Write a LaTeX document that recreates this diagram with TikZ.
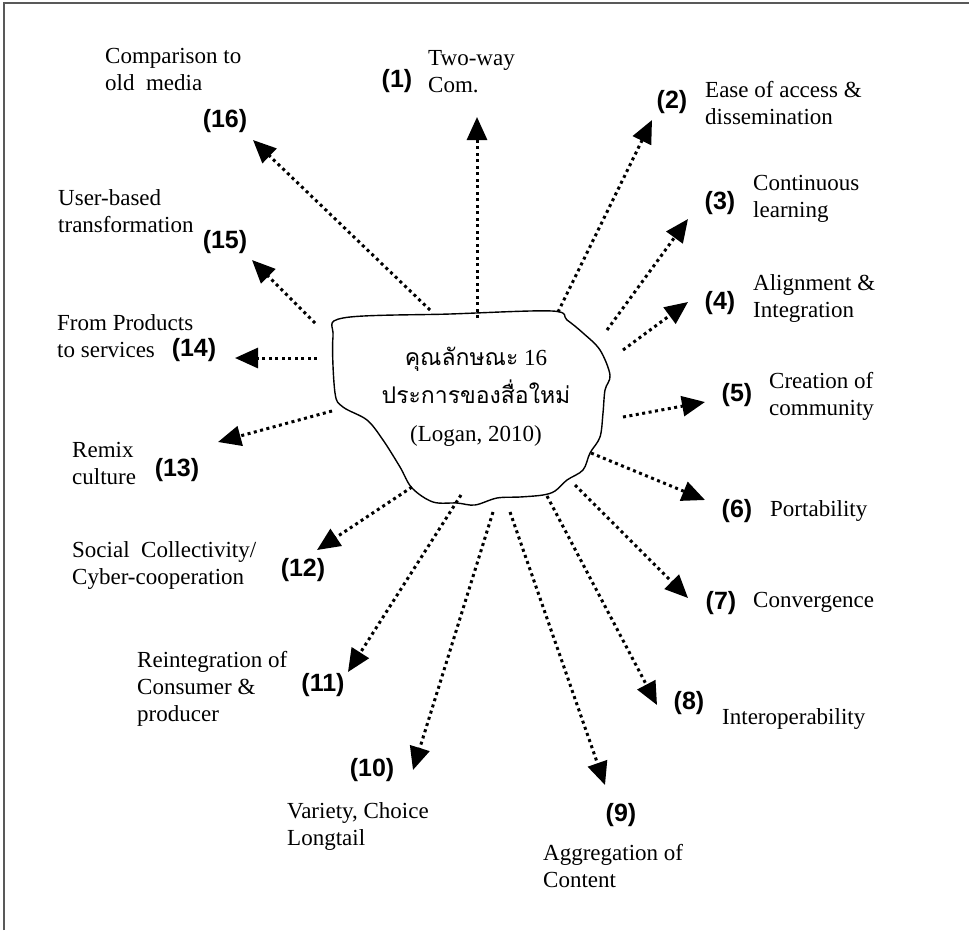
\documentclass[tikz,border=0pt]{standalone}
\usepackage{fontspec}
\setmainfont{Liberation Serif}
\newfontfamily\numfont{Liberation Sans}
\newfontfamily\thaifont[Script=Thai]{Loma}
\usetikzlibrary{arrows.meta}
\newcommand{\lns}[1]{\begin{tabular}[t]{@{}l@{}}#1\end{tabular}}
\tikzset{
  lbl/.style={anchor=base west, inner sep=0pt, font=\fontsize{23}{27}\selectfont},
  num/.style={anchor=center, inner sep=0pt, font=\numfont\bfseries\fontsize{25}{30}\selectfont},
  ray/.style={line width=3pt, dash pattern=on 3pt off 3.5pt, -{Triangle[length=23pt,width=20pt]}},
  blobline/.style={line width=1.4pt, black},
  framel/.style={line width=2pt, black!65}
}
\begin{document}
\begin{tikzpicture}[x=1pt,y=-1pt]
\useasboundingbox (0,0) rectangle (969,930);
\draw[framel] (4,930) -- (4,3) -- (969,3);

% blob
\draw[blobline] plot[smooth cycle, tension=0.55] coordinates {
 (343,318) (450,314) (552,311) (567,320) (583,333) (600,350) (610,375)
 (605,390) (603,413) (600,437) (590,453) (583,470) (567,480) (555,491)
 (543,495) (520,497) (497,498) (475,505) (457,503) (433,502) (412,488)
 (400,467) (383,440) (367,420) (343,407) (335,393) (333,337)};
\node[anchor=base, inner sep=0pt, font=\fontsize{23}{38}\selectfont] (center) at (476,365)
 {\begin{tabular}[t]{@{}c@{}}{\thaifont คุณลักษณะ} 16\\{\thaifont ประการของสื่อใหม่}\\(Logan, 2010)\end{tabular}};

% start and end coordinates
\coordinate (s1) at (477,318);  \coordinate (e1) at (477,117);
\coordinate (s2) at (558,312);  \coordinate (e2) at (652,120);
\coordinate (s3) at (607,330);  \coordinate (e3) at (688,219);
\coordinate (s4) at (623,350);  \coordinate (e4) at (688,302);
\coordinate (s5) at (623,417);  \coordinate (e5) at (705,402);
\coordinate (s6) at (591,453);  \coordinate (e6) at (705,500);
\coordinate (s7) at (575,485);  \coordinate (e7) at (688,598);
\coordinate (s8) at (547,496);  \coordinate (e8) at (657,705);
\coordinate (s9) at (510,512);  \coordinate (e9) at (605,785);
\coordinate (s10) at (493,512); \coordinate (e10) at (413,770);
\coordinate (s11) at (461,495); \coordinate (e11) at (348,672);
\coordinate (s12) at (412,487); \coordinate (e12) at (317,550);
\coordinate (s13) at (332,411); \coordinate (e13) at (218,442);
\coordinate (s14) at (317,358); \coordinate (e14) at (235,358);
\coordinate (s15) at (315,323); \coordinate (e15) at (252,260);
\coordinate (s16) at (430,310); \coordinate (e16) at (253,140);
\foreach \i in {1,...,16} \draw[ray] (s\i) -- (e\i);

% numbers
\node[num] (n1) at (397,81) {(1)};
\node[num] (n2) at (672,102) {(2)};
\node[num] (n3) at (720,203) {(3)};
\node[num] (n4) at (720,303) {(4)};
\node[num] (n5) at (737,395) {(5)};
\node[num] (n6) at (737,511) {(6)};
\node[num] (n7) at (721,603) {(7)};
\node[num] (n8) at (689,703) {(8)};
\node[num] (n9) at (621,815) {(9)};
\node[num] (n10) at (372,770) {(10)};
\node[num] (n11) at (323,685) {(11)};
\node[num] (n12) at (303,570) {(12)};
\node[num] (n13) at (177,470) {(13)};
\node[num] (n14) at (194,350) {(14)};
\node[num] (n15) at (225,242) {(15)};
\node[num] (n16) at (225,121) {(16)};

% labels
\node[lbl] (t1) at (428,65) {\lns{Two-way\\Com.}};
\node[lbl] (t2) at (705,97) {\lns{Ease of access \&\\dissemination}};
\node[lbl] (t3) at (753,190) {\lns{Continuous\\learning}};
\node[lbl] (t4) at (753,290) {\lns{Alignment \&\\Integration}};
\node[lbl] (t5) at (769,388) {\lns{Creation of\\community}};
\node[lbl] (t6) at (770,516) {Portability};
\node[lbl] (t7) at (753,607) {Convergence};
\node[lbl] (t8) at (722,724) {Interoperability};
\node[lbl] (t9) at (543,860) {\lns{Aggregation of\\Content}};
\node[lbl] (t10) at (287,818) {\lns{Variety, Choice\\Longtail}};
\node[lbl] (t11) at (137,667) {\lns{Reintegration of\\Consumer \&\\producer}};
\node[lbl] (t12) at (72,557) {\lns{Social\ \ Collectivity/\\Cyber-cooperation}};
\node[lbl] (t13) at (72,457) {\lns{Remix\\culture}};
\node[lbl] (t14) at (57,330) {\lns{From Products\\to services}};
\node[lbl] (t15) at (58,205) {\lns{User-based\\transformation}};
\node[lbl] (t16) at (105,63) {\lns{Comparison to\\old\ \ media}};
\end{tikzpicture}
\end{document}
